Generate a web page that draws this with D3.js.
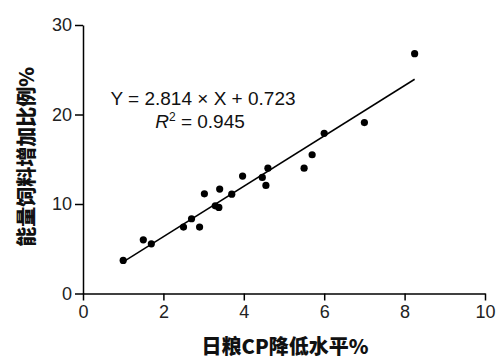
<!DOCTYPE html>
<html>
<head>
<meta charset="utf-8">
<script src="https://cdn.jsdelivr.net/npm/d3@7"></script>
<style>
  body { margin: 0; background: #fff; }
  .axis text { font-family: "Liberation Sans", Arial, sans-serif; font-size: 18px; fill: #222; }
  .axis path, .axis line { stroke: #000; stroke-width: 1.5px; }
  .title { font-family: "Noto Sans CJK SC", sans-serif; font-weight: 900; font-size: 20px; fill: #111; }
  .eq { font-family: "Liberation Sans", Arial, sans-serif; font-size: 19px; fill: #111; }
</style>
</head>
<body>
<div id="chart"></div>
<script>
// CP reduction level (%) vs energy feed increase (%)
var xValues = [1.0, 1.5, 1.7, 2.5, 2.7, 2.9, 3.02, 3.29, 3.38, 3.4, 3.7, 3.97, 4.46, 4.55, 4.6, 5.5, 5.7, 6.0, 7.0, 8.25];
var yValues = [3.7, 6.0, 5.55, 7.42, 8.35, 7.42, 11.14, 9.8, 9.62, 11.67, 11.1, 13.12, 12.97, 12.08, 14.0, 14.0, 15.5, 17.9, 19.1, 26.8];
var xTicks = [0, 2, 4, 6, 8, 10];
var yTicks = [0, 10, 20, 30];
var slope = 2.814, intercept = 0.723, r2 = 0.945;

var svgWidth = 499, svgHeight = 363;
var margin = { top: 25, right: 14, bottom: 70, left: 83 };

var svg = d3.select("#chart").append("svg")
    .attr("width", svgWidth)
    .attr("height", svgHeight);

var x = d3.scaleLinear().domain([0, 10]).range([margin.left, 485]);
var y = d3.scaleLinear().domain([0, 30]).range([293.5, margin.top]);

svg.append("g")
    .attr("class", "x axis")
    .attr("transform", "translate(0," + y(0) + ")")
    .call(d3.axisBottom(x).tickValues(xTicks).tickSize(7).tickPadding(5).tickSizeOuter(0));

svg.append("g")
    .attr("class", "y axis")
    .attr("transform", "translate(" + x(0) + ",0)")
    .call(d3.axisLeft(y).tickValues(yTicks).tickSize(8).tickPadding(3).tickSizeOuter(0));

// fitted line over data range
var xMin = d3.min(xValues), xMax = d3.max(xValues);
svg.append("line")
    .attr("x1", x(xMin)).attr("y1", y(slope * xMin + intercept))
    .attr("x2", x(xMax)).attr("y2", y(slope * xMax + intercept))
    .attr("stroke", "#000")
    .attr("stroke-width", 1.5);

svg.selectAll(".dot")
    .data(xValues)
    .enter().append("circle")
    .attr("class", "dot")
    .attr("cx", function(d) { return x(d); })
    .attr("cy", function(d, i) { return y(yValues[i]); })
    .attr("r", 3.6)
    .attr("fill", "#000");

svg.append("text")
    .attr("class", "eq")
    .attr("x", 203).attr("y", 105)
    .attr("text-anchor", "middle")
    .text("Y = " + slope + " × X + " + intercept);

var rt = svg.append("text")
    .attr("class", "eq")
    .attr("x", 200).attr("y", 128)
    .attr("text-anchor", "middle");
rt.append("tspan").attr("font-style", "italic").text("R");
rt.append("tspan").attr("font-size", "12px").attr("dy", -7).text("2");
rt.append("tspan").attr("dy", 7).text(" = " + r2);

svg.append("text")
    .attr("class", "title")
    .attr("x", 285).attr("y", 354)
    .attr("text-anchor", "middle")
    .text("日粮CP降低水平%");

svg.append("text")
    .attr("class", "title")
    .attr("transform", "translate(34,157) rotate(-90)")
    .attr("text-anchor", "middle")
    .text("能量饲料增加比例%");
</script>
</body>
</html>
